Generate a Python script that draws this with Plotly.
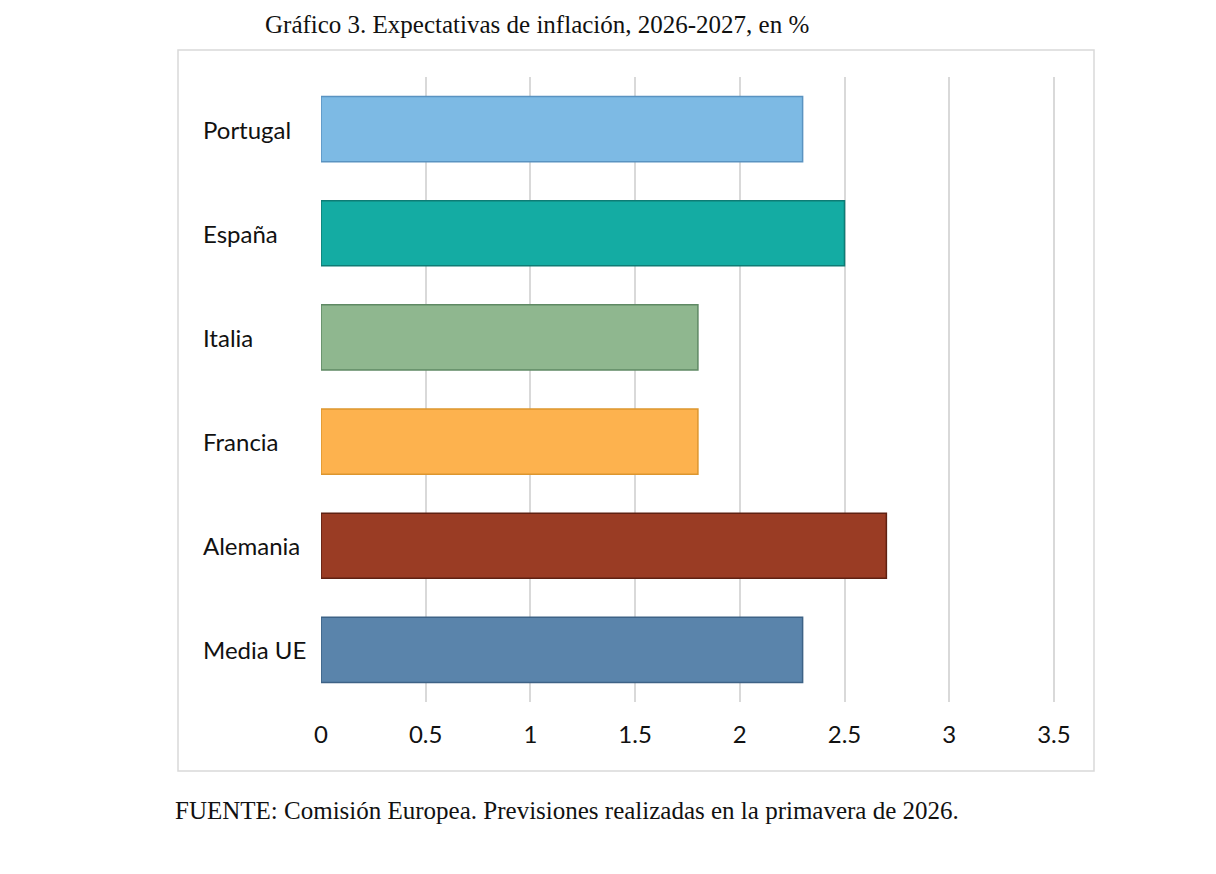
import plotly.graph_objects as go

# datos del gráfico (de abajo a arriba)
paises = ['Media UE', 'Alemania', 'Francia', 'Italia', 'España', 'Portugal']
inflacion = [2.3, 2.7, 1.8, 1.8, 2.5, 2.3]
relleno = ['#5a84ab', '#9a3c24', '#fdb24e', '#8fb78f', '#14aca3', '#7dbae4']
borde = ['#3d6286', '#5f2112', '#dd962e', '#5f8964', '#0e7c75', '#5a93c1']
ticks_x = [0, 0.5, 1, 1.5, 2, 2.5, 3, 3.5]

titulo = 'Gráfico 3. Expectativas de inflación, 2026-2027, en %'
fuente = 'FUENTE: Comisión Europea. Previsiones realizadas en la primavera de 2026.'

# la página añade 8px de margen al cuerpo
OFF = 8
W, H = 1216 - OFF, 874 - OFF
x_max = 3.51
ml = 321 - OFF
pw = round((1054 - 321) / 3.5 * x_max)
mr = W - ml - pw
mt = 77 - OFF
mb = H - (702 - OFF)
ph = H - mt - mb


def px_x(p):
    return (p - OFF - ml) / pw


def px_y(p):
    return (H - mb - (p - OFF)) / ph


fig = go.Figure()
fig.add_trace(go.Bar(
    y=paises, x=inflacion, orientation='h',
    marker=dict(color=relleno, line=dict(color=borde, width=1.5)),
    hoverinfo='x+y',
))

for p in paises:
    fig.add_annotation(x=px_x(201), xref='paper', y=p, yref='y',
                       text=p, showarrow=False, xanchor='left',
                       font=dict(family='Lato', size=24, color='#111111'))

fig.add_annotation(x=px_x(537), xref='paper', y=px_y(8.5), yref='paper',
                   text=titulo, showarrow=False, xanchor='center', yanchor='top',
                   font=dict(family='Liberation Serif', size=25, color='#111111'))
fig.add_annotation(x=px_x(173), xref='paper', y=px_y(811), yref='paper',
                   text=fuente, showarrow=False, xanchor='left', yanchor='middle',
                   font=dict(family='Liberation Serif', size=25, color='#111111'))

# marco del gráfico
fig.add_shape(type='rect', xref='paper', yref='paper',
              x0=px_x(178), x1=px_x(1094), y0=px_y(771), y1=px_y(50),
              line=dict(color='#d9d9d9', width=1.5), layer='below')

fig.update_layout(
    width=W, height=H,
    margin=dict(l=ml, r=mr, t=mt, b=mb),
    paper_bgcolor='white', plot_bgcolor='white',
    bargap=0.375,
    showlegend=False,
    xaxis=dict(range=[0, x_max], tickvals=ticks_x,
               ticktext=[f'{t:g}' for t in ticks_x],
               showgrid=True, gridcolor='#d9d9d9', gridwidth=1.5,
               zeroline=False, showline=False, ticks='',
               tickfont=dict(family='Lato', size=24, color='#111111'),
               ticklabelstandoff=16),
    yaxis=dict(showticklabels=False, showgrid=False, zeroline=False,
               showline=False, ticks=''),
)

fig.write_html('out.html')
